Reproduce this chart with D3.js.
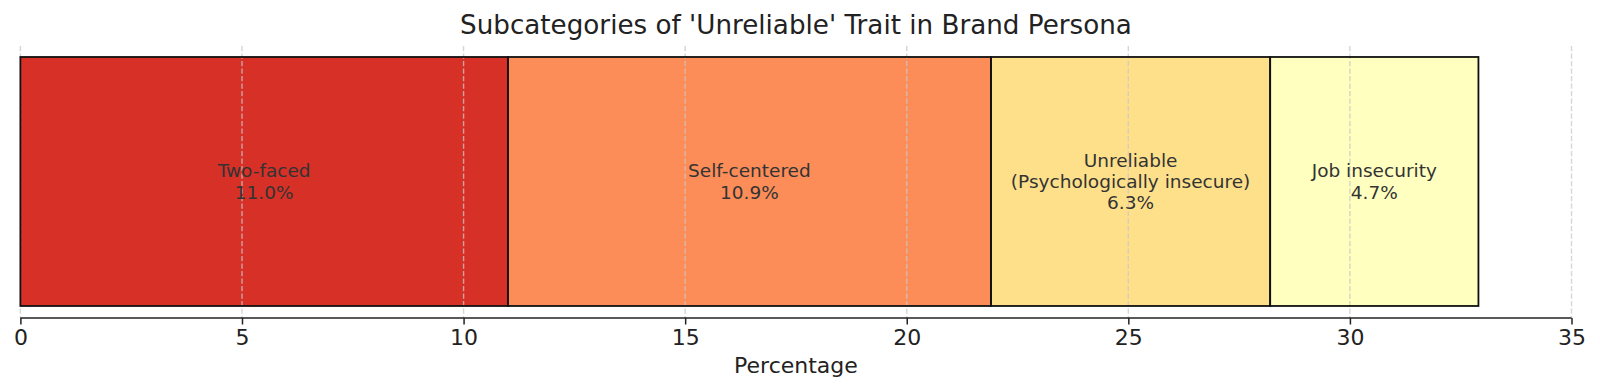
<!DOCTYPE html>
<html>
<head>
<meta charset="utf-8">
<script src="https://cdn.jsdelivr.net/npm/d3@7"></script>
<style>
  html, body { margin: 0; padding: 0; background: #fff; }
  svg { display: block; font-family: "DejaVu Sans", sans-serif; }
</style>
</head>
<body>
<svg id="chart" width="1600" height="390"></svg>
<script>
const categories = ["Two-faced", "Self-centered", "Unreliable\n(Psychologically insecure)", "Job insecurity"];
const values = [11.0, 10.9, 6.3, 4.7];
const colors = ["#d73027", "#fc8d59", "#fee08b", "#ffffbf"];
const xTicks = [0, 5, 10, 15, 20, 25, 30, 35];
const titleText = "Subcategories of 'Unreliable' Trait in Brand Persona";
const xLabelText = "Percentage";

(function () {
const svg = d3.select("#chart");
const pLeft = 20.4, pRight = 1571.5, pTop = 46, pBottom = 318;

const x = d3.scaleLinear().domain([0, 35]).range([pLeft, pRight]);
const y = d3.scaleLinear().domain([-0.4386, 0.4353]).range([pBottom, pTop]);

let acc = 0;
const segs = values.map((v, i) => {
  const s = { cat: categories[i], value: v, start: acc, color: colors[i] };
  acc += v;
  return s;
});

// bar fills
svg.append("g").selectAll("rect").data(segs).join("rect")
  .attr("x", d => x(d.start))
  .attr("y", y(0.4))
  .attr("width", d => x(d.start + d.value) - x(d.start))
  .attr("height", y(-0.4) - y(0.4))
  .attr("fill", d => d.color);

// grid
svg.append("g").selectAll("line").data(xTicks).join("line")
  .attr("x1", d => x(d)).attr("x2", d => x(d))
  .attr("y1", pTop).attr("y2", pBottom)
  .attr("stroke", "#c8c8c8")
  .attr("stroke-opacity", 0.75)
  .attr("stroke-width", 1.4)
  .attr("stroke-dasharray", "5.2,2.3");

// bar outlines
svg.append("g").selectAll("rect").data(segs).join("rect")
  .attr("x", d => x(d.start))
  .attr("y", y(0.4))
  .attr("width", d => x(d.start + d.value) - x(d.start))
  .attr("height", y(-0.4) - y(0.4))
  .attr("fill", "none")
  .attr("stroke", "#111")
  .attr("stroke-width", 1.8);

// x axis
const xAxis = d3.axisBottom(x).tickValues(xTicks).tickFormat(d3.format("d")).tickSize(6.5).tickPadding(5);
const ax = svg.append("g").attr("transform", `translate(0,${pBottom})`).call(xAxis);
ax.select(".domain").attr("stroke", "#222").attr("stroke-width", 1.5).attr("d", `M${pLeft},0H${pRight}`);
ax.selectAll(".tick line").attr("stroke", "#222").attr("stroke-width", 1.5);
ax.selectAll(".tick text").attr("font-family", "DejaVu Sans").attr("font-size", 22).attr("fill", "#222");

// labels in bars
svg.append("g").selectAll("text").data(segs).join("text")
  .attr("text-anchor", "middle")
  .attr("font-size", 18.5)
  .attr("fill", "#333")
  .each(function(d) {
    const lines = d.cat.split("\n").concat([d.value.toFixed(1) + "%"]);
    const t = d3.select(this);
    const cx = (x(d.start) + x(d.start + d.value)) / 2;
    const lh = 21.4;
    const cy = y(0);
    const first = cy - (lines.length - 1) * lh / 2;
    lines.forEach((ln, k) => {
      t.append("tspan").attr("x", cx).attr("y", first + k * lh).attr("dy", "0.35em").text(ln);
    });
  });

// title
svg.append("text").attr("x", (pLeft + pRight) / 2).attr("y", 24.5).attr("dy", "0.35em")
  .attr("text-anchor", "middle").attr("font-size", 26.2).attr("fill", "#222").text(titleText);

// x label
svg.append("text").attr("x", (pLeft + pRight) / 2).attr("y", 365).attr("dy", "0.35em")
  .attr("text-anchor", "middle").attr("font-size", 22).attr("fill", "#222").text(xLabelText);
})();
</script>
</body>
</html>
